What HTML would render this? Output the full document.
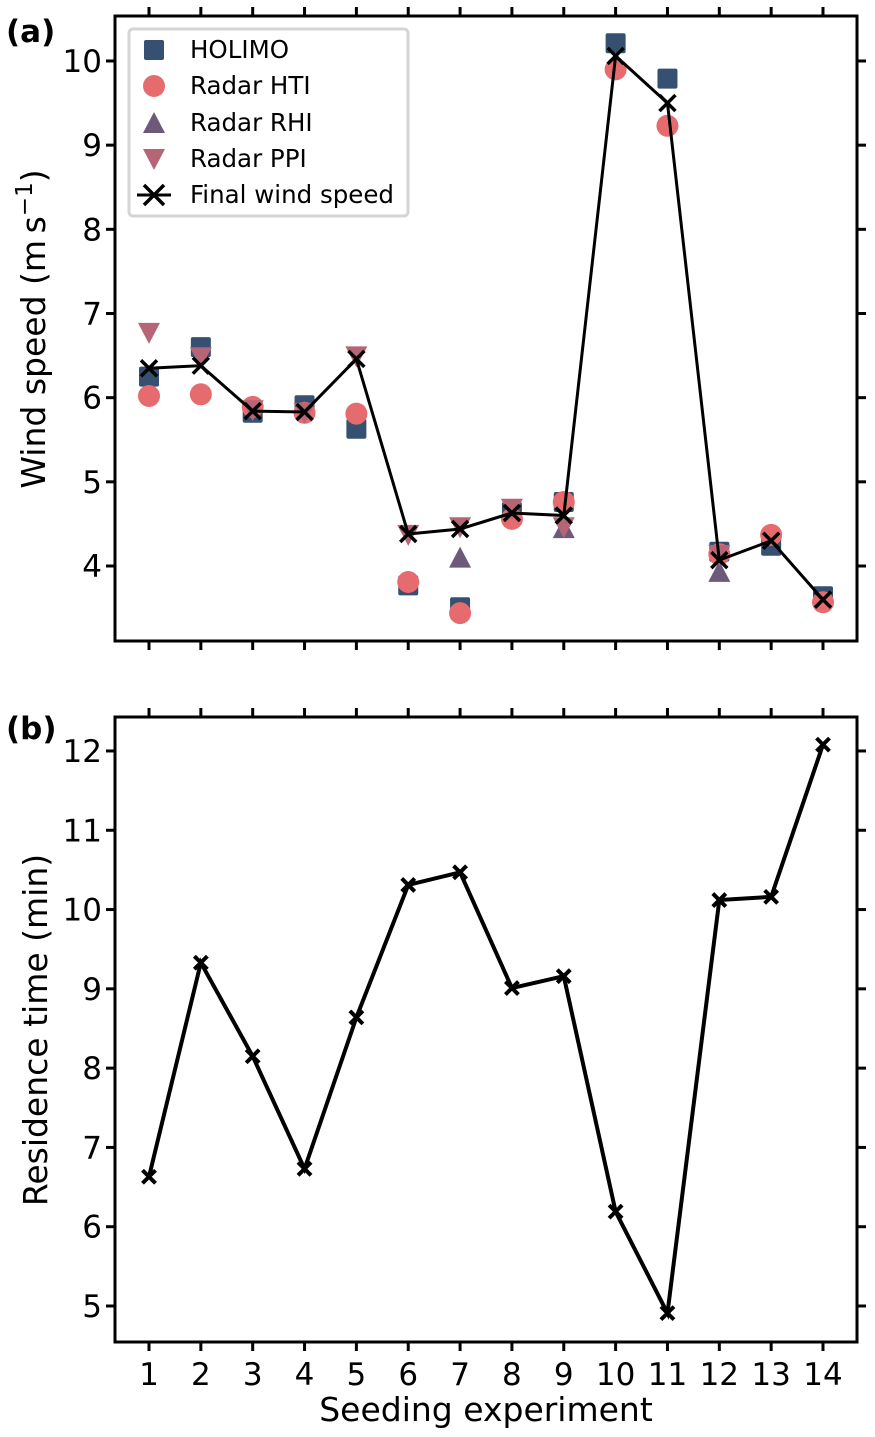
<!DOCTYPE html>
<html><head><meta charset="utf-8">
<style>
html,body{margin:0;padding:0;background:#fff;}
svg{display:block;font-family:"DejaVu Sans","Liberation Sans",sans-serif;}
</style></head>
<body>
<svg id="chart" width="875" height="1437" viewBox="0 0 875 1437" xmlns="http://www.w3.org/2000/svg"></svg>
<script>
const experiments = [1,2,3,4,5,6,7,8,9,10,11,12,13,14];
const holimo = [6.25,6.60,5.82,5.91,5.63,3.77,3.51,4.64,4.76,10.21,9.79,4.17,4.24,3.64];
const radarHTI = [6.02,6.04,5.89,5.82,5.81,3.81,3.44,4.56,4.76,9.90,9.23,4.14,4.37,3.57];
const radarRHI = [null,null,null,null,null,null,4.10,null,4.45,null,null,3.93,null,null];
const radarPPI = [6.77,6.48,5.85,5.82,6.49,4.37,4.46,4.68,4.46,null,null,4.13,null,null];
const finalWind = [6.35,6.38,5.84,5.83,6.46,4.38,4.44,4.63,4.60,10.06,9.50,4.07,4.30,3.60];
const residence = [6.63,9.33,8.15,6.73,8.64,10.31,10.47,9.01,9.16,6.19,4.91,10.12,10.16,12.08];
const windTicks = [4,5,6,7,8,9,10];
const resTicks = [5,6,7,8,9,10,11,12];

const NS="http://www.w3.org/2000/svg";
const svg=document.getElementById('chart');
function el(tag,attrs,parent){const e=document.createElementNS(NS,tag);for(const k in attrs)e.setAttribute(k,attrs[k]);(parent||svg).appendChild(e);return e;}

const L=115,R=857;
const xS=v=>149+(v-1)*(823-149)/13;
const yA=v=>566-(v-4)*84.17;
const yB=v=>1306-(v-5)*79.29;
const C={h:'#355070',t:'#e56b6f',r:'#6d597a',p:'#b56576'};

function axes(top,bot,yf,ticks,name,showX){
  const g=el('g',{});
  
  
  experiments.forEach(e=>{
    const x=xS(e);
    el('line',{x1:x,x2:x,y1:bot,y2:bot+9,stroke:'#000','stroke-width':3},g);
    el('line',{x1:x,x2:x,y1:top,y2:top-9,stroke:'#000','stroke-width':3},g);
    if(showX){const t=el('text',{x:x,y:bot+43,'font-size':31,'text-anchor':'middle'},g);t.textContent=e;
      
      }
  });
  ticks.forEach(v=>{
    const y=yf(v);
    el('line',{x1:L-9,x2:L,y1:y,y2:y,stroke:'#000','stroke-width':3},g);
    el('line',{x1:R,x2:R+9,y1:y,y2:y,stroke:'#000','stroke-width':3},g);
    const t=el('text',{x:L-13,y:y+11,'font-size':31,'text-anchor':'end'},g);t.textContent=v;
    
    
  });
  return g;
}
function cross(x,y,s,w,p){el('path',{d:`M${x-s},${y-s}L${x+s},${y+s}M${x-s},${y+s}L${x+s},${y-s}`,stroke:'#000','stroke-width':w,fill:'none'},p);}
function marker(type,x,y,p){
  if(type==='h')return el('rect',{x:x-10,y:y-10,width:20,height:20,rx:2,fill:C.h},p);
  if(type==='t')return el('circle',{cx:x,cy:y,r:11,fill:C.t},p);
  if(type==='r')return el('path',{d:`M${x},${y-11}L${x+11},${y+10}L${x-11},${y+10}Z`,fill:C.r},p);
  if(type==='p')return el('path',{d:`M${x},${y+11}L${x+11},${y-10}L${x-11},${y-10}Z`,fill:C.p},p);
}

// Panel A
axes(16,641,yA,windTicks,'panel-a-axes',false);
[['h',holimo,'holimo-series'],['t',radarHTI,'radar-hti-series'],['r',radarRHI,'radar-rhi-series'],['p',radarPPI,'radar-ppi-series']].forEach(([k,arr,n])=>{
  const g=el('g',{});
  
  
  arr.forEach((v,i)=>{if(v!=null){const m=marker(k,xS(experiments[i]),yA(v),g);
    
    }});
});
const gw=el('g',{});


el('polyline',{points:finalWind.map((v,i)=>xS(experiments[i])+','+yA(v)).join(' '),fill:'none',stroke:'#000','stroke-width':3},gw);
finalWind.forEach((v,i)=>cross(xS(experiments[i]),yA(v),8,3.5,gw));
el('rect',{x:L,y:16,width:R-L,height:625,fill:'none',stroke:'#000','stroke-width':3});

// legend
const lg=el('g',{});


el('rect',{x:129,y:29,width:279,height:187,rx:4,fill:'#fff',stroke:'#d5d5d5','stroke-width':3},lg);
[['h','HOLIMO',50],['t','Radar HTI',86],['r','Radar RHI',123],['p','Radar PPI',159],['x','Final wind speed',195]].forEach(([k,lab,y])=>{
  if(k==='x'){el('line',{x1:137,x2:171,y1:y,y2:y,stroke:'#000','stroke-width':3},lg);cross(154,y,10,3.5,lg);}
  else marker(k,154,y,lg);
  const t=el('text',{x:190,y:y+8,'font-size':24.5},lg);t.textContent=lab;
  
  
});

// Panel B
axes(717,1342,yB,resTicks,'panel-b-axes',true);
const gr=el('g',{});


el('polyline',{points:residence.map((v,i)=>xS(experiments[i])+','+yB(v)).join(' '),fill:'none',stroke:'#000','stroke-width':4},gr);
residence.forEach((v,i)=>cross(xS(experiments[i]),yB(v),6.5,4,gr));
el('rect',{x:L,y:717,width:R-L,height:625,fill:'none',stroke:'#000','stroke-width':3});

// labels
function txt(s,attrs,name){const t=el('text',attrs);t.textContent=s;
  
  return t;}
txt('(a)',{x:6,y:42,'font-size':31,'font-weight':'bold'},'panel-a-label');
txt('(b)',{x:6,y:739,'font-size':31,'font-weight':'bold'},'panel-b-label');
const ya=el('text',{transform:'translate(45,329) rotate(-90)','font-size':33,'text-anchor':'middle'});


ya.innerHTML='Wind speed (m\u2009s<tspan dy="-13" font-size="23">\u22121</tspan><tspan dy="13">)</tspan>';
txt('Residence time (min)',{transform:'translate(47,1030) rotate(-90)','font-size':33,'text-anchor':'middle'},'y-axis-title-residence');
txt('Seeding experiment',{x:486,y:1421,'font-size':33,'text-anchor':'middle'},'x-axis-title');
</script>
</body></html>
